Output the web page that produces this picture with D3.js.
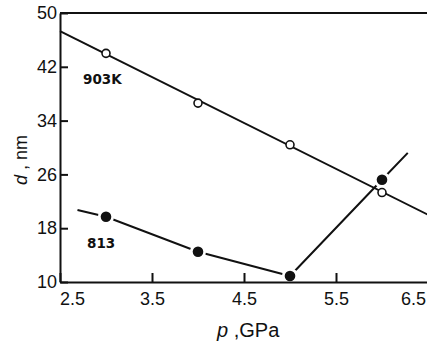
<!DOCTYPE html>
<html>
<head>
<meta charset="utf-8">
<script src="https://cdn.jsdelivr.net/npm/d3@7"></script>
<style>
body { margin: 0; background: white; }
text { font-family: "Liberation Sans", Arial, sans-serif; fill: #111; }
</style>
</head>
<body>
<div id="chart"></div>
<script>
// data
var xTicks = [2.5, 3.5, 4.5, 5.5, 6.5];
var yTicks = [10, 18, 26, 34, 42, 50];

var p903 = [3.0, 4.0, 5.0, 6.0];
var d903 = [44.0, 36.6, 30.4, 23.3];
var fit903 = [[2.5, 47.3], [6.5, 20.0]];

var p813 = [3.0, 4.0, 5.0, 6.0];
var d813 = [19.7, 14.5, 10.9, 25.2];
var fit813a = [[2.69, 20.7], [3.0, 19.7], [4.0, 14.5], [5.0, 10.9]];
var fit813b = [[5.0, 10.9], [6.0, 25.2], [6.28, 29.2]];

var W = 427, H = 347;
var svg = d3.select("#chart").append("svg").attr("width", W).attr("height", H);

var x = d3.scaleLinear().domain([2.5, 6.5]).range([60, 428]);
var y = d3.scaleLinear().domain([10, 50]).range([282, 13]);

var line = d3.line().x(function (d) { return x(d[0]); }).y(function (d) { return y(d[1]); });

// 813 lines first, then halos to break them near the points
svg.selectAll("path.l813").data([fit813a, fit813b]).enter().append("path")
	.attr("class", "l813")
	.attr("d", line)
	.attr("fill", "none").attr("stroke", "#111").attr("stroke-width", 2);

var pts813 = p813.map(function (p, i) { return [p, d813[i]]; });
var pts903 = p903.map(function (p, i) { return [p, d903[i]]; });

svg.selectAll("circle.halo").data(pts813).enter().append("circle")
	.attr("class", "halo")
	.attr("cx", function (d) { return x(d[0]); })
	.attr("cy", function (d) { return y(d[1]); })
	.attr("r", 8).attr("fill", "white");

svg.append("path").datum(fit903)
	.attr("d", line)
	.attr("fill", "none").attr("stroke", "#111").attr("stroke-width", 2);

svg.selectAll("circle.p903").data(pts903).enter().append("circle")
	.attr("class", "p903")
	.attr("cx", function (d) { return x(d[0]); })
	.attr("cy", function (d) { return y(d[1]); })
	.attr("r", 4).attr("fill", "white").attr("stroke", "#111").attr("stroke-width", 1.6);

svg.selectAll("circle.p813").data(pts813).enter().append("circle")
	.attr("class", "p813")
	.attr("cx", function (d) { return x(d[0]); })
	.attr("cy", function (d) { return y(d[1]); })
	.attr("r", 5.3).attr("fill", "#111");

// axes
var xAxis = svg.append("g").attr("transform", "translate(0," + y(10) + ")")
	.call(d3.axisBottom(x).tickValues(xTicks).tickSize(-9).tickSizeOuter(0).tickFormat(d3.format(".1f")));
xAxis.selectAll("text").attr("y", 10).attr("font-size", 18)
	.attr("dx", function (d) { return d == 2.5 ? 12 : (d == 6.5 ? -15 : 0); });

var yAxis = svg.append("g").attr("transform", "translate(" + x(2.5) + ",0)")
	.call(d3.axisLeft(y).tickValues(yTicks).tickSize(-8).tickSizeOuter(0));
yAxis.selectAll("text").attr("x", -3).attr("font-size", 18);

svg.selectAll(".domain, .tick line").attr("stroke", "#111").attr("stroke-width", 2);
svg.selectAll(".tick text").attr("font-family", "Liberation Sans").attr("fill", "#111");

// top frame
svg.append("line").attr("x1", x(2.5)).attr("x2", W).attr("y1", y(50)).attr("y2", y(50))
	.attr("stroke", "#111").attr("stroke-width", 2);

// series labels
svg.append("text").attr("x", 83).attr("y", 84).text("903K")
	.style("font-family", "DejaVu Sans").attr("font-weight", "bold").attr("font-size", 13.5);
svg.append("text").attr("x", 87).attr("y", 248).text("813")
	.style("font-family", "DejaVu Sans").attr("font-weight", "bold").attr("font-size", 13.5);

// axis titles
var xt = svg.append("text").attr("x", 217).attr("y", 337).attr("font-size", 20);
xt.append("tspan").attr("font-style", "italic").text("p");
xt.append("tspan").text(" ,GPa");

var yt = svg.append("text").attr("transform", "translate(27,185) rotate(-90)").attr("font-size", 18);
yt.append("tspan").attr("font-style", "italic").text("d");
yt.append("tspan").text(" , nm");
</script>
</body>
</html>
